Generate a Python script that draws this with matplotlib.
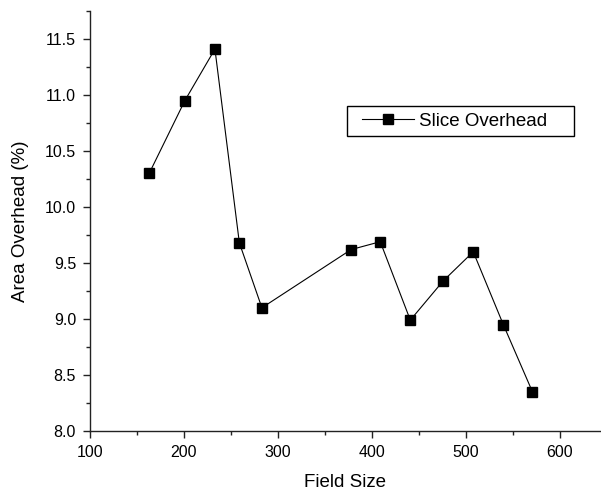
import matplotlib
matplotlib.use('Agg')
import matplotlib.pyplot as plt
from matplotlib.patches import Rectangle
from matplotlib.ticker import MultipleLocator

# Values.
field_size = [163, 201, 233, 259, 283, 378, 409, 441, 476, 508, 540, 571]
area_overhead = [10.30, 10.95, 11.41, 9.68, 9.10, 9.62, 9.69, 8.99, 9.34, 9.60, 8.95, 8.35]
series_label = 'Slice Overhead'

plt.rcParams['font.family'] = ['Liberation Sans', 'DejaVu Sans']

W, H = 601, 493
fig = plt.figure(figsize=(W / 100, H / 100), dpi=100)
ax = fig.add_axes([90 / W, 1 - 431 / H, 1 - 90 / W, (431 - 11) / H])

ax.plot(field_size, area_overhead, color='black', lw=0.8, marker='s',
        markersize=6.5, markerfacecolor='black', markeredgecolor='black',
        label=series_label)

ax.set_xlim(100, 644)
ax.set_ylim(8.0, 11.75)
ax.xaxis.set_major_locator(MultipleLocator(100))
ax.xaxis.set_minor_locator(MultipleLocator(50))
ax.yaxis.set_major_locator(MultipleLocator(0.5))
ax.yaxis.set_minor_locator(MultipleLocator(0.25))
ax.yaxis.set_major_formatter(plt.FormatStrFormatter('%.1f'))

for side in ('top', 'right'):
    ax.spines[side].set_visible(False)
for side in ('left', 'bottom'):
    ax.spines[side].set_linewidth(1.0)
    ax.spines[side].set_color('#222222')

ax.tick_params(which='major', direction='out', length=5, width=1,
               labelsize=11.5, pad=5, color='#222222')
ax.tick_params(which='minor', direction='out', length=3, width=1,
               color='#222222')

ax.set_xlabel('Field Size', fontsize=13.5)
ax.set_ylabel('Area Overhead (%)', fontsize=13.5)
ax.xaxis.set_label_coords(0.5, -(474 - 431) / 420)
ax.yaxis.set_label_coords((29 - 90) / 511, 0.5)

# Legend: frame drawn separately so the padding matches the reference box.
fig.patches.append(Rectangle((347 / W, 1 - 136 / H), (574 - 347) / W, 30 / H,
                             transform=fig.transFigure, fill=False,
                             edgecolor='black', linewidth=1.0))
ax.legend(loc='center left', bbox_to_anchor=(362 / W, 1 - 121 / H),
          bbox_transform=fig.transFigure, borderaxespad=0, borderpad=0,
          frameon=False, fontsize=13.5, handlelength=2.75, handletextpad=0.3)

fig.savefig('out.png', dpi=100)
